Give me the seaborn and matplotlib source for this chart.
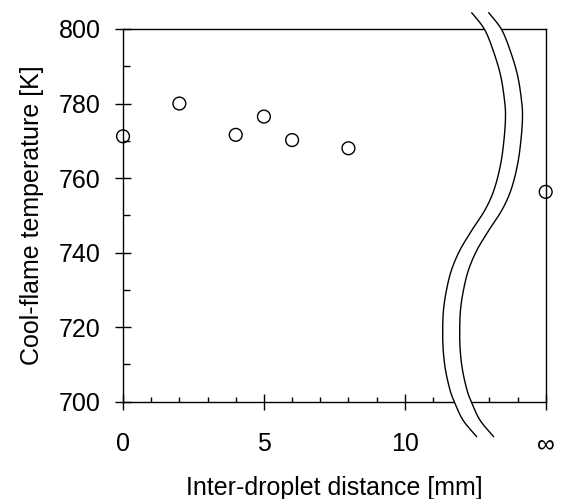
import numpy as np
import matplotlib
matplotlib.use("Agg")
import matplotlib.pyplot as plt
import seaborn as sns
import pandas as pd

# ---- data ----
distance = [0, 2, 4, 5, 6, 8, 15]          # 15 stands for infinity
temperature = [771.2, 780.0, 771.6, 776.5, 770.2, 768.0, 756.3]

x_major = [0, 5, 10, 15]
x_labels = ["0", "5", "10", "\u221e"]
x_minor = [1, 2, 3, 4, 6, 7, 8, 9, 11, 12, 13, 14]
y_major = [700, 720, 740, 760, 780, 800]
y_minor = [710, 730, 750, 770, 790]

# axis-break curve (data coordinates); the second line is this one shifted right
break_x = [12.374, 12.821, 13.130, 13.396, 13.538, 13.574, 13.520, 13.396, 13.165,
           12.846, 12.385, 11.959, 11.657, 11.480, 11.373, 11.345, 11.363, 11.444,
           11.604, 11.757, 12.065, 12.552]
break_y = [804.37, 800.0, 794.37, 787.66, 780.95, 776.39, 770.22, 763.51, 756.80,
           751.44, 746.07, 740.70, 735.34, 729.97, 724.60, 719.24, 713.87, 708.51,
           703.14, 700.0, 695.06, 690.61]
break_gap = 0.603

df = pd.DataFrame({"d": distance, "T": temperature})

sns.set_theme(style="white")
plt.rcParams["font.family"] = ["Liberation Sans", "DejaVu Sans"]


def catmull(xs, ys, n=24):
    pts = np.column_stack([xs, ys]).astype(float)
    P = np.vstack([pts[0], pts, pts[-1]])
    out = []
    t = np.linspace(0, 1, n, endpoint=False)[:, None]
    for i in range(1, len(P) - 2):
        p0, p1, p2, p3 = P[i - 1], P[i], P[i + 1], P[i + 2]
        out.append(0.5 * ((2 * p1) + (-p0 + p2) * t
                          + (2 * p0 - 5 * p1 + 4 * p2 - p3) * t ** 2
                          + (-p0 + 3 * p1 - 3 * p2 + p3) * t ** 3))
    out.append(P[-2][None])
    return np.vstack(out)


fig = plt.figure(figsize=(5.61, 4.99), dpi=100)
ax = fig.add_axes([0.2193, 0.195, 0.7534, 0.7469])

sns.scatterplot(data=df, x="d", y="T", ax=ax, marker="o", s=85,
                facecolor="none", edgecolor="black", linewidth=1.0,
                clip_on=False, zorder=5, legend=False)

ax.set_xlim(0, 15)
ax.set_ylim(700, 800)

for s in ax.spines.values():
    s.set_color("black")
    s.set_linewidth(1.0)
    s.set_visible(True)

ax.set_xticks(x_major)
ax.set_xticklabels(x_labels)
ax.set_xticks(x_minor, minor=True)
ax.set_yticks(y_major)
ax.set_yticks(y_minor, minor=True)

ax.tick_params(axis="x", which="major", direction="inout", length=12, width=1.0,
               color="black", labelsize=18, pad=16, bottom=True, top=False,
               labelcolor="black")
ax.tick_params(axis="x", which="minor", direction="in", length=3.8, width=1.0,
               color="black", bottom=True, top=False)
ax.tick_params(axis="y", which="major", direction="inout", length=12, width=1.0,
               color="black", labelsize=18, pad=10, left=True, right=False,
               labelcolor="black")
ax.tick_params(axis="y", which="minor", direction="in", length=4.8, width=1.0,
               color="black", left=True, right=False)

ax.set_xlabel("Inter-droplet distance [mm]", fontsize=18, labelpad=14, color="black")
ax.set_ylabel("Cool-flame temperature [K]", fontsize=18, labelpad=11, color="black")

# axis break
L = catmull(break_x, break_y)
R = L.copy()
R[:, 0] += break_gap
poly = np.vstack([L, R[::-1]])
ax.fill(poly[:, 0], poly[:, 1], color="white", zorder=4, clip_on=False, lw=0)
ax.plot(L[:, 0], L[:, 1], color="black", lw=1.0, zorder=4.5, clip_on=False)
ax.plot(R[:, 0], R[:, 1], color="black", lw=1.0, zorder=4.5, clip_on=False)

fig.savefig("out.png", dpi=100)
